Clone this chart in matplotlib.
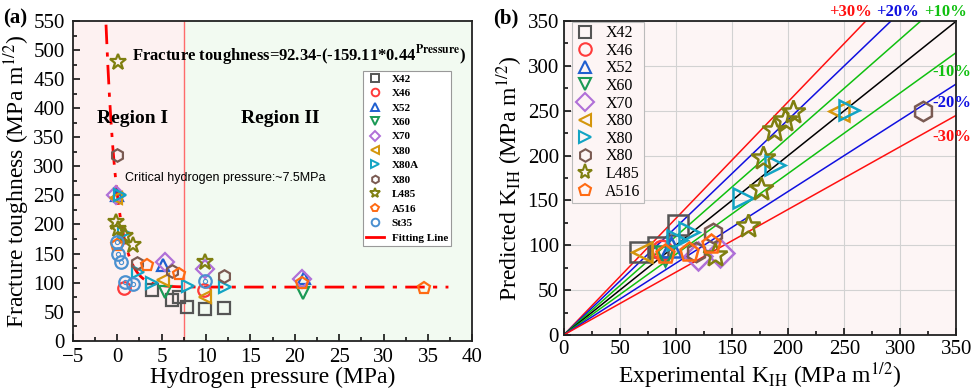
import numpy as np
import matplotlib
matplotlib.use("Agg")
import matplotlib.pyplot as plt
from matplotlib.lines import Line2D

plt.rcParams['font.family'] = ['Liberation Serif', 'DejaVu Serif']
plt.rcParams['mathtext.fontset'] = 'stix'

# ---- panel (a) data: hydrogen pressure (MPa) vs fracture toughness ----
names_a = ['X42', 'X46', 'X52', 'X60', 'X70', 'X80', 'X80A', 'X80', 'L485', 'A516', 'St35']
markers_a = ['s', 'o', '^', 'v', 'D', '<', '>', 'h', '*', 'p', 'o']
colors_a = ['#555555', '#ff3b3b', '#1f5fd0', '#1a9a55', '#b070d8', '#d4960c',
            '#12a4c4', '#7a5a52', '#7f7f10', '#ff6a12', '#4a90d0']
press_a = [
    [3.9, 6.2, 6.9, 7.9, 9.9, 12.0],
    [0.7, 9.8],
    [0.0, 5.1, 21.0],
    [5.4, 20.9],
    [-0.1, 5.4, 9.9, 20.8],
    [-0.1, 5.2, 9.9],
    [0.3, 0.8, 2.3, 3.9, 8.0, 12.1],
    [0.0, 2.2, 6.2, 12.0],
    [0.1, -0.1, 0.1, 0.9, 1.8, 9.9],
    [0.0, 3.4, 6.9, 20.8, 34.5],
    [0.0, 0.1, 0.4, 0.9, 1.8, 9.9],
]
tough_a = [
    [87, 70, 75, 58, 54, 57],
    [90, 87],
    [250, 130, 108],
    [84, 82],
    [250, 135, 123, 106],
    [245, 105, 76],
    [250, 185, 118, 100, 95, 92],
    [320, 133, 120, 112],
    [480, 204, 193, 180, 165, 135],
    [165, 130, 115, 99, 90],
    [170, 150, 135, 101, 98, 103],
]
# fitted curve: K = a - (-b * c**P)
fit_a, fit_b, fit_c = 92.34, 159.11, 0.44
fit_range = (-1.27, 37.3)
p_crit = 7.5

# ---- panel (b) data: experimental vs predicted K_IH ----
names_b = ['X42', 'X46', 'X52', 'X60', 'X70', 'X80', 'X80', 'X80', 'L485', 'A516']
markers_b = ['s', 'o', '^', 'v', 'D', '<', '>', 'h', '*', 'p']
colors_b = colors_a[:10]
exp_b = [
    [68, 84, 102],
    [88],
    [96],
    [90],
    [120, 139],
    [70, 245],
    [101, 112, 160, 188, 254],
    [118, 133, 320],
    [135, 164, 176, 178, 187, 197, 204],
    [90, 112, 131],
]
pred_b = [
    [93, 98, 123],
    [95],
    [98],
    [88],
    [88, 91],
    [92, 250],
    [106, 115, 153, 190, 251],
    [93, 114, 250],
    [89, 122, 163, 197, 229, 240, 249],
    [90, 92, 101],
]
ratios = [1.3, 1.2, 1.1, 1.0, 0.9, 0.8, 0.7]
ratio_colors = ['#ff1010', '#1010e0', '#10c010', 'black', '#10c010', '#1010e0', '#ff1010']

fig = plt.figure(figsize=(9.72, 3.89), dpi=100)
ax1 = fig.add_axes([0.075, 0.124, 0.411, 0.822])
ax2 = fig.add_axes([0.580, 0.139, 0.404, 0.807])

# ---------------- panel (a) ----------------
ax1.set_xlim(-5, 40)
ax1.set_ylim(0, 550)
ax1.axvspan(-5, p_crit, color='#fdf1f1', zorder=0)
ax1.axvspan(p_crit, 40, color='#f2faf1', zorder=0)
ax1.axvline(p_crit, color='#ff6b6b', lw=1.0, zorder=1)

pp = np.linspace(fit_range[0], fit_range[1], 400)
ax1.plot(pp, fit_a - (-fit_b * fit_c ** pp), color='red', ls=(0, (7, 3, 1.5, 3)), lw=2, zorder=2)

for n, m, c, xs, ys in zip(names_a, markers_a, colors_a, press_a, tough_a):
    ms = 12 if m == '*' else 9
    ax1.plot(xs, ys, ls='none', marker=m, ms=ms, mfc='none', mec=c, mew=1.6, zorder=3)
# St35 inner dot
ax1.plot(press_a[-1], tough_a[-1], ls='none', marker='o', ms=3, mfc='none', mec=colors_a[-1], mew=0.8, zorder=3)

ax1.set_xticks(np.arange(-5, 41, 5))
ax1.set_xticklabels(['\u22125'] + [str(v) for v in range(0, 41, 5)])
ax1.set_yticks(np.arange(0, 551, 50))
ax1.set_xticks(np.arange(-5, 40, 2.5), minor=True)
ax1.set_yticks(np.arange(0, 550, 25), minor=True)
ax1.tick_params(which='both', direction='in', labelsize=15, width=1.1)
ax1.tick_params(which='major', length=5)
ax1.tick_params(which='minor', length=3)
ax1.tick_params(axis='x', pad=5)
ax1.tick_params(axis='y', pad=6)
ax1.set_xlabel('Hydrogen pressure (MPa)', fontsize=17, labelpad=0)
ax1.set_ylabel('Fracture toughness (MPa m$^{1/2}$)', fontsize=17, labelpad=1)
for s in ax1.spines.values():
    s.set_linewidth(1.3)
    s.set_color('#222222')

ax1.text(1.7, 491, r'Fracture toughness=92.34-(-159.11*0.44$^{\mathbf{Pressure}}$)',
         fontsize=12, fontweight='bold', va='center')
ax1.text(-2.25, 383, 'Region I', fontsize=14, fontweight='bold', va='center')
ax1.text(13.9, 383, 'Region II', fontsize=14, fontweight='bold', va='center')
ax1.text(0.9, 280, 'Critical hydrogen pressure:~7.5MPa', fontsize=9,
         family='Liberation Sans', va='center')

handles_a = []
for n, m, c in zip(names_a, markers_a, colors_a):
    handles_a.append(Line2D([], [], ls='none', marker=m, ms=7 if m == '*' else 5.5,
                            mfc='none', mec=c, mew=1.4, label=n))
handles_a.append(Line2D([], [], color='red', lw=2, label='Fitting Line'))
leg1 = ax1.legend(handles=handles_a, loc='upper left', bbox_to_anchor=(0.726, 0.845),
                  prop={'weight': 'bold', 'size': 8}, labelspacing=0.42, handlelength=1.6,
                  handletextpad=0.7, borderpad=0.3, fancybox=False, framealpha=1,
                  facecolor='white', edgecolor='#999999', borderaxespad=0)
leg1.get_frame().set_linewidth(0.8)

# ---------------- panel (b) ----------------
ax2.set_xlim(0, 350)
ax2.set_ylim(0, 350)
ax2.set_facecolor('#fdf5f5')
ax2.grid(True, color='#d2d2d2', lw=0.8)
ax2.set_axisbelow(True)
xx = np.array([0, 350])
for r, c in zip(ratios, ratio_colors):
    ax2.plot(xx, r * xx, color=c, lw=1.1, zorder=2)
for n, m, c, xs, ys in zip(names_b, markers_b, colors_b, exp_b, pred_b):
    ms = 18 if m == '*' else 14
    ax2.plot(xs, ys, ls='none', marker=m, ms=ms, mfc='none', mec=c, mew=1.8, zorder=3)

ax2.set_xticks(np.arange(0, 351, 50))
ax2.set_yticks(np.arange(0, 351, 50))
ax2.set_xticks(np.arange(0, 350, 25), minor=True)
ax2.set_yticks(np.arange(0, 350, 25), minor=True)
ax2.tick_params(which='both', direction='in', labelsize=15, width=1.1)
ax2.tick_params(which='major', length=5)
ax2.tick_params(which='minor', length=3)
ax2.set_xlabel('Experimental K$_{\\rm IH}$ (MPa m$^{1/2}$)', fontsize=17, labelpad=1)
ax2.set_ylabel('Predicted K$_{\\rm IH}$ (MPa m$^{1/2}$)', fontsize=17, labelpad=2)
for s in ax2.spines.values():
    s.set_linewidth(1.3)
    s.set_color('#222222')

handles_b = [Line2D([], [], ls='none', marker=m, ms=11 if m == '*' else 9,
                    mfc='none', mec=c, mew=1.5, label=n)
             for n, m, c in zip(names_b, markers_b, colors_b)]
leg2 = ax2.legend(handles=handles_b, loc='upper left', bbox_to_anchor=(0.02, 0.997),
                  fontsize=11.5, labelspacing=0.1, handlelength=1.3, handletextpad=0.6,
                  borderpad=0.2, fancybox=False, framealpha=1, facecolor='#fdf5f5',
                  edgecolor='#bbbbbb', borderaxespad=0)
leg2.get_frame().set_linewidth(0.8)

pct_labels = [('+30%', '#ff1010', 850, 12), ('+20%', '#1010e0', 897, 12),
              ('+10%', '#10c010', 945, 12), ('-10%', '#10c010', 952, 72),
              ('-20%', '#1010e0', 952, 103), ('-30%', '#ff1010', 952, 137)]
for t, c, px, py in pct_labels:
    fig.text(px / 972, 1 - py / 389, t, color=c, fontsize=12, fontweight='bold',
             ha='center', va='center')

fig.text(3 / 972, 1 - 18 / 389, '(a)', fontsize=15, fontweight='bold', va='center')
fig.text(493 / 972, 1 - 18 / 389, '(b)', fontsize=15, fontweight='bold', va='center')

fig.savefig('out.png', dpi=100)
